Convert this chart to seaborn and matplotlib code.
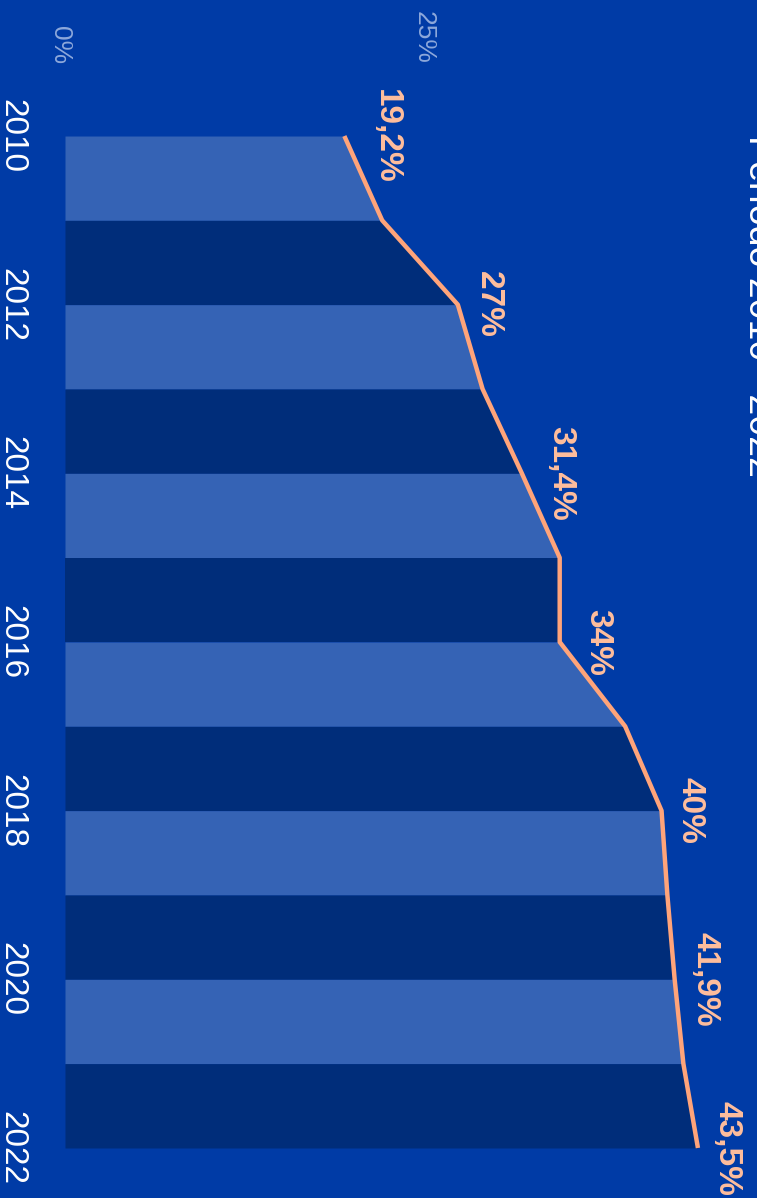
import pandas as pd
import matplotlib
matplotlib.use('Agg')
import matplotlib.pyplot as plt
import seaborn as sns

# --- data (chart is drawn rotated: years run downwards) ---
years = [2010, 2011, 2012, 2013, 2014, 2015, 2016, 2017, 2018, 2019, 2020, 2021, 2022]
share = [19.2, 21.8, 27.0, 28.7, 31.4, 34.0, 34.0, 38.5, 41.0, 41.4, 41.9, 42.5, 43.5]

label_years = [2010, 2012, 2014, 2016, 2018, 2020, 2022]
label_text = ['19,2%', '27%', '31,4%', '34%', '40%', '41,9%', '43,5%']

year_ticks = [2010, 2012, 2014, 2016, 2018, 2020, 2022]
value_ticks = [0, 25]
value_tick_labels = ['0%', '25%']

title = 'Período 2010 - 2022'

# label offsets (in % units) to the right of the line
label_dx = [2.3, 1.5, 2.1, 2.0, 1.4, 1.5, 1.4]

# colours
BG = '#003BA6'
LIGHT = '#3563B5'
DARK = '#002D7A'
LINE = '#FFA47A'
LABEL = '#FFBE9C'
TICK = '#8DA8DB'

sns.set_style('white')
plt.rcParams['font.family'] = ['Liberation Sans', 'DejaVu Sans']

fig = plt.figure(figsize=(7.57, 11.98), dpi=100, facecolor=BG)
ax = fig.add_axes([0, 0, 1, 1])
ax.set_facecolor(BG)

df = pd.DataFrame({'year': years, 'share': share})

# alternating bands under the line, one per year
for i in range(len(years) - 1):
    color = LIGHT if i % 2 == 0 else DARK
    ax.fill_betweenx(years[i:i + 2], 0, share[i:i + 2], color=color, lw=0)

sns.lineplot(data=df, x='share', y='year', orient='y', color=LINE,
             lw=3.2, solid_capstyle='butt', ax=ax)

ax.set_xlim(-4.467, 47.56)
ax.set_ylim(2022.593, 2008.387)
ax.axis('off')

# year labels (left)
for y in year_ticks:
    ax.text(-4.26, y, str(y), rotation=-90, rotation_mode='anchor',
            ha='center', va='baseline', fontsize=24, color='white')

# value axis labels (top)
for v, lab in zip(value_ticks, value_tick_labels):
    ax.text(v - 0.8, 2009.146, lab, rotation=-90, rotation_mode='anchor',
            ha='right', va='baseline', fontsize=19, color=TICK)

# data labels
share_by_year = dict(zip(years, share))
for y, lab, dx in zip(label_years, label_text, label_dx):
    ax.text(share_by_year[y] + dx, y, lab, rotation=-90, rotation_mode='anchor',
            ha='center', va='baseline', fontsize=24, fontweight='bold',
            color=LABEL)

# title (cut by the right edge as in the reference)
ax.text(47.0, 2009.99, title, rotation=-90, rotation_mode='anchor',
        ha='left', va='baseline', fontsize=27, color='white')

fig.savefig('out.png', dpi=100, facecolor=BG)
